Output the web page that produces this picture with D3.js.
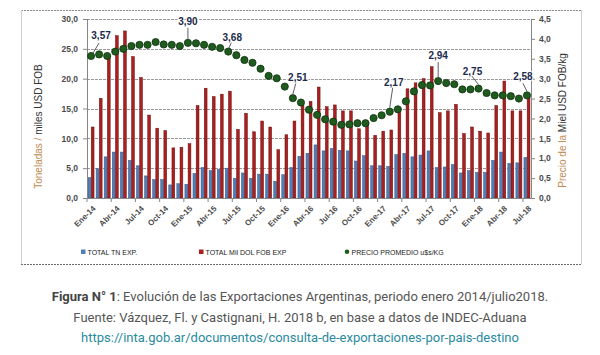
<!DOCTYPE html>
<html><head><meta charset="utf-8">
<script src="https://cdn.jsdelivr.net/npm/d3@7"></script>
<style>body{margin:0;background:#fff}svg{display:block}</style>
</head><body><svg id="c" width="600" height="355"></svg>
<script>
const categories = [
 "Ene-14","Feb-14","Mar-14","Abr-14","May-14","Jun-14","Jul-14","Ago-14","Sep-14","Oct-14","Nov-14","Dic-14",
 "Ene-15","Feb-15","Mar-15","Abr-15","May-15","Jun-15","Jul-15","Ago-15","Sep-15","Oct-15","Nov-15","Dic-15",
 "Ene-16","Feb-16","Mar-16","Abr-16","May-16","Jun-16","Jul-16","Ago-16","Sep-16","Oct-16","Nov-16","Dic-16",
 "Ene-17","Feb-17","Mar-17","Abr-17","May-17","Jun-17","Jul-17","Ago-17","Sep-17","Oct-17","Nov-17","Dic-17",
 "Ene-18","Feb-18","Mar-18","Abr-18","May-18","Jun-18","Jul-18"];
const tickLabels = ["Ene-14","Abr-14","Jul-14","Oct-14","Ene-15","Abr-15","Jul-15","Oct-15","Ene-16","Abr-16",
 "Jul-16","Oct-16","Ene-17","Abr-17","Jul-17","Oct-17","Ene-18","Abr-18","Jul-18"];
const totalTn = [3.4,4.9,6.9,7.7,7.7,6.3,5.4,3.7,3.1,3.1,2.2,2.4,
 2.3,4.1,5.1,4.6,4.8,5.0,3.3,4.2,3.3,4.0,4.0,2.8,
 3.9,5.1,7.0,7.5,8.9,7.9,8.3,8.0,7.9,6.2,7.1,5.4,
 5.4,5.3,7.3,7.5,6.9,7.2,7.9,5.1,5.2,5.6,4.2,4.6,
 4.3,4.3,6.3,7.7,5.8,5.9,6.8];
const totalUsd = [11.9,16.7,23.7,27.2,28.0,23.7,20.2,13.9,11.7,11.3,8.4,8.5,
 9.1,15.5,18.4,17.0,17.4,17.9,11.5,14.2,11.1,12.9,11.9,8.1,
 10.6,12.9,15.6,16.2,18.6,15.3,15.6,14.6,14.6,11.6,12.8,10.5,
 11.2,11.4,14.8,18.3,19.3,20.0,22.0,14.3,14.6,15.7,10.8,11.9,
 11.2,10.9,15.5,19.6,14.6,14.6,17.0];
const precio = [3.57,3.61,3.57,3.68,3.75,3.82,3.85,3.85,3.92,3.86,3.85,3.82,
 3.90,3.89,3.85,3.80,3.77,3.68,3.59,3.47,3.40,3.25,3.07,3.01,
 2.80,2.51,2.40,2.22,2.09,1.98,1.92,1.84,1.85,1.88,1.88,2.01,
 2.08,2.17,2.23,2.43,2.68,2.84,2.83,2.94,2.89,2.86,2.73,2.73,
 2.75,2.64,2.58,2.58,2.56,2.50,2.58];
const labelledMonths = ["Ene-14","Ene-15","Jun-15","Feb-16","Feb-17","Ago-17","Ene-18","Jul-18"];
const leftTicks = [0,5,10,15,20,25,30];
const rightTicks = [0,0.5,1,1.5,2,2.5,3,3.5,4,4.5];
const seriesNames = ["TOTAL TN EXP.","TOTAL Mil DOL FOB EXP","PRECIO PROMEDIO u$s/KG"];

// label placement offsets relative to their point (layout, not data)
const labelOffsets = {
 "Ene-14":{tx:10,ty:-17,l1:[8,-13],l2:[2,-3]},
 "Ene-15":{tx:0,ty:-18,l1:[0,-15],l2:[0,-4]},
 "Jun-15":{tx:4,ty:-11,l1:[3,-9],l2:[0,-2]},
 "Feb-16":{tx:5,ty:-17,l1:[3,-15],l2:[0,-4]},
 "Feb-17":{tx:4,ty:-26,l1:[3,-24],l2:[0,-4]},
 "Ago-17":{tx:0,ty:-22,l1:[0,-19],l2:[0,-4]},
 "Ene-18":{tx:-6,ty:-14,l1:[-7,-13],l2:[0,-4]},
 "Jul-18":{tx:-4,ty:-15,l1:[-4,-12],l2:[0,-4]}
};

const svg = d3.select("#c");
const L=87, R=531, T=19, B=198;
const fmt = d => d3.format(".1f")(d).replace(".", ",");
const fmt2 = d => d3.format(".2f")(d).replace(".", ",");

// chart frame
const fr = svg.append("g");
fr.append("line").attr("x1",21).attr("x2",582).attr("y1",10.5).attr("y2",10.5).attr("stroke","#8a8a8a").attr("stroke-dasharray","2,1");
fr.append("line").attr("x1",21).attr("x2",582).attr("y1",264.5).attr("y2",264.5).attr("stroke","#6a6a6a").attr("stroke-dasharray","2,1");
fr.append("line").attr("x1",21.5).attr("x2",21.5).attr("y1",10).attr("y2",264).attr("stroke","#cfcfcf");
fr.append("line").attr("x1",581.5).attr("x2",581.5).attr("y1",10).attr("y2",264).attr("stroke","#cfcfcf");

const x = d3.scaleBand().domain(categories).range([L,R]).paddingInner(0.16).paddingOuter(0.08);
const xs = d3.scaleBand().domain(["tn","usd"]).range([0,x.bandwidth()]).padding(0.12);
const yL = d3.scaleLinear().domain([0,30]).range([B,T]);
const yR = d3.scaleLinear().domain([0,4.5]).range([B,T]);
const step = x.step();

// gridlines
svg.append("g").selectAll("line").data(leftTicks.filter(d=>d>0)).join("line")
 .attr("x1",L).attr("x2",R).attr("y1",d=>Math.round(yL(d))+0.5).attr("y2",d=>Math.round(yL(d))+0.5)
 .attr("stroke","#9a9a9a").attr("stroke-dasharray","3,1");

// bars
const gb = svg.append("g");
gb.selectAll("rect.tn").data(categories).join("rect").attr("class","tn")
 .attr("x",(c)=>x(c)+xs("tn")).attr("width",xs.bandwidth())
 .attr("y",(c,i)=>yL(totalTn[i])).attr("height",(c,i)=>yL(0)-yL(totalTn[i]))
 .attr("fill","#4f7fb8").attr("stroke","#34598a").attr("stroke-width",0.5);
gb.selectAll("rect.usd").data(categories).join("rect").attr("class","usd")
 .attr("x",(c)=>x(c)+xs("usd")).attr("width",xs.bandwidth())
 .attr("y",(c,i)=>yL(totalUsd[i])).attr("height",(c,i)=>yL(0)-yL(totalUsd[i]))
 .attr("fill","#a82020").attr("stroke","#6e0f0f").attr("stroke-width",0.5);

// axes
const axL = svg.append("g").attr("transform",`translate(${L},0)`)
 .call(d3.axisLeft(yL).tickValues(leftTicks).tickFormat(fmt).tickSize(4).tickPadding(5));
const axR = svg.append("g").attr("transform",`translate(${R},0)`)
 .call(d3.axisRight(yR).tickValues(rightTicks).tickFormat(fmt).tickSize(4).tickPadding(4));
const axB = svg.append("g").attr("transform",`translate(0,${B})`)
 .call(d3.axisBottom(x).tickValues(tickLabels).tickSize(0).tickSizeOuter(0));
[axL,axR,axB].forEach(a=>{
 a.select(".domain").attr("stroke","#868686");
 a.selectAll(".tick line").attr("stroke","#868686");
 a.selectAll("text").attr("font-family","Liberation Sans, Arial, sans-serif").attr("font-size",8.5)
  .attr("font-weight","bold").attr("fill","#4a4a4a");
});
axB.selectAll(".tick text").attr("y",0).attr("x",0).attr("dy","0.35em")
 .attr("text-anchor","end").attr("transform","translate(3,9) rotate(-45)").attr("font-size",8);
// boundary tick marks every 3 months
svg.append("g").selectAll("line").data(tickLabels).join("line")
 .attr("x1",c=>x(c)-step*x.paddingInner()/2).attr("x2",c=>x(c)-step*x.paddingInner()/2)
 .attr("y1",B).attr("y2",B+4).attr("stroke","#868686");

// price markers
const px = c => x(c)+x.bandwidth()/2;
svg.append("g").selectAll("circle").data(categories).join("circle")
 .attr("cx",px).attr("cy",(c,i)=>yR(precio[i])).attr("r",3.6)
 .attr("fill","#1f5a1f").attr("stroke","#0e330e").attr("stroke-width",0.8);

// data labels with leader lines
const gl = svg.append("g");
labelledMonths.forEach(c=>{
 const i = categories.indexOf(c), o = labelOffsets[c];
 const cx = px(c), cy = yR(precio[i]);
 gl.append("line").attr("x1",cx+o.l1[0]).attr("y1",cy+o.l1[1]).attr("x2",cx+o.l2[0]).attr("y2",cy+o.l2[1])
  .attr("stroke","#333").attr("stroke-width",0.8);
 gl.append("text").attr("x",cx+o.tx).attr("y",cy+o.ty).attr("text-anchor","middle")
  .attr("font-family","Liberation Sans, Arial, sans-serif").attr("font-size",10).attr("font-weight","bold")
  .attr("fill","#1d2a4a").attr("stroke","#fff").attr("stroke-width",2).attr("paint-order","stroke")
  .text(fmt2(precio[i]));
});

// axis titles
const tl = svg.append("text").attr("transform",`translate(42,${(T+B)/2+18}) rotate(-90)`).attr("text-anchor","middle")
 .attr("font-family","Liberation Sans, Arial, sans-serif").attr("font-size",10);
tl.append("tspan").attr("fill","#c08a50").text("Toneladas / ");
tl.append("tspan").attr("fill","#333").text("miles USD FOB");
const tr = svg.append("text").attr("transform",`translate(566,${(T+B)/2+12}) rotate(-90)`).attr("text-anchor","middle")
 .attr("font-family","Liberation Sans, Arial, sans-serif").attr("font-size",10);
tr.append("tspan").attr("fill","#c08a50").text("Precio de la ");
tr.append("tspan").attr("fill","#333").text("Miel USD FOB/kg");

// legend
const lg = svg.append("g").attr("font-family","Liberation Sans, Arial, sans-serif").attr("font-size",7).attr("fill","#222");
const legX = [81,199,345];
lg.append("rect").attr("x",legX[0]).attr("y",249.5).attr("width",4.5).attr("height",4.5).attr("fill","#4f7fb8");
lg.append("rect").attr("x",legX[1]).attr("y",249.5).attr("width",4.5).attr("height",4.5).attr("fill","#a82020");
lg.append("circle").attr("cx",legX[2]+2).attr("cy",251.8).attr("r",2.3).attr("fill","#1f5a1f");
seriesNames.forEach((s,k)=>lg.append("text").attr("x",legX[k]+6.5).attr("y",254.5).text(s));

// caption
const cap = svg.append("g").attr("font-family","Roboto, sans-serif").attr("font-size",13).attr("text-anchor","middle");
const c1 = cap.append("text").attr("x",300).attr("y",301);
c1.append("tspan").attr("font-weight","bold").attr("fill","#444").text("Figura N° 1");
c1.append("tspan").attr("fill","#555").text(": Evolución de las Exportaciones Argentinas, periodo enero 2014/julio2018.");
cap.append("text").attr("x",300).attr("y",322).attr("fill","#555").text("Fuente: Vázquez, Fl. y Castignani, H. 2018 b, en base a datos de INDEC-Aduana");
cap.append("text").attr("x",300).attr("y",342).attr("fill","#2a8aa0").text("https://inta.gob.ar/documentos/consulta-de-exportaciones-por-pais-destino");
</script></body></html>
